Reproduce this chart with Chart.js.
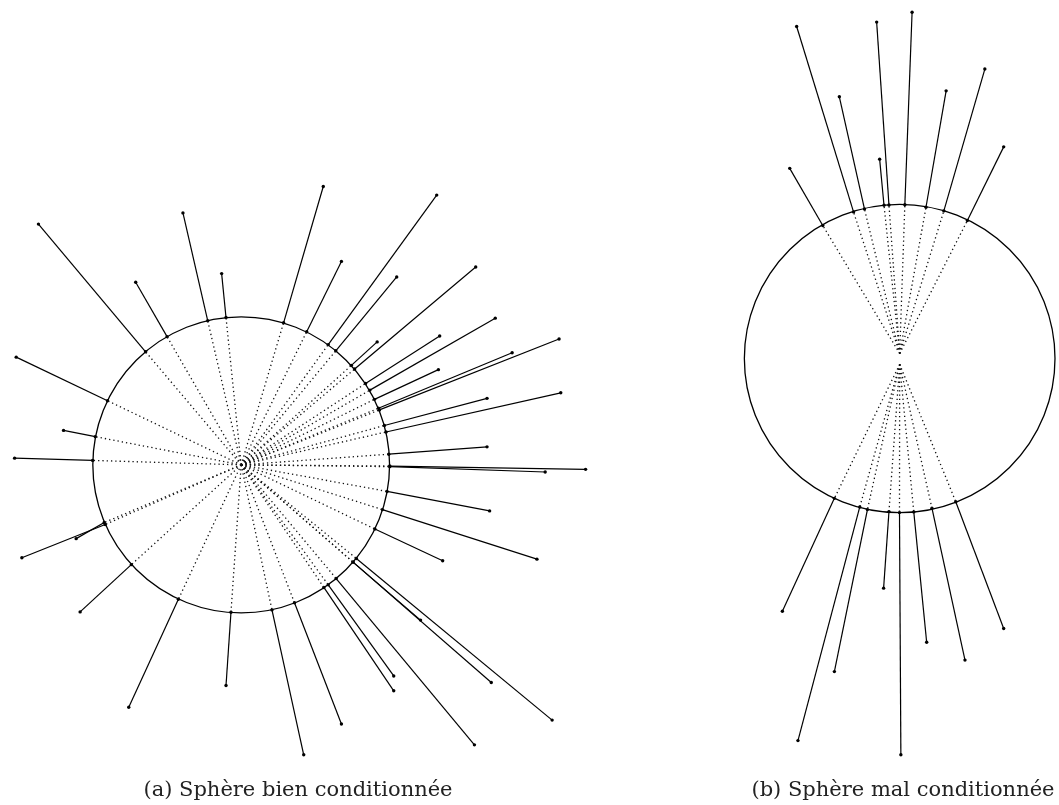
<!DOCTYPE html>
<html lang="fr">
<head>
  <meta charset="utf-8">
  <title>Sphères</title>
  <style type="text/css">
    body { margin: 0; background: #fff; }
    .page { position: relative; width: 1059px; height: 805px; overflow: hidden; }
    #rays { position: absolute; left: 0; top: 0; }
    /* legendes sous chaque sous-figure */
    .caption {
      position: absolute;
      top: 778px;
      width: 500px;
      text-align: center;
      font-family: "DejaVu Serif", "Liberation Serif", serif;
      font-size: 21px;
      line-height: 22px;
      color: #222;
      white-space: nowrap;
    }
  </style>
</head>
<body>
  <div class="page">
    <canvas id="rays" width="1059" height="805"></canvas>
    <div class="caption" style="left: 48px;">(a) Sphère bien conditionnée</div>
    <div class="caption" style="left: 653px;">(b) Sphère mal conditionnée</div>
  </div>

  <script src="https://cdn.jsdelivr.net/npm/chart.js"></script>

  <script>
    // sphere (a) : centre x, centre y, rayon
    const sphereA = [239, 465.5, 149.5];
    // points on the sphere (a)
    const footA = [
      [89.3, 461], [92, 437], [104.3, 400.7], [142.7, 351.3], [164.3, 336],
      [205.3, 320], [223.7, 316.7], [281.7, 322], [305, 331], [326.7, 344],
      [334.3, 350.3], [350, 365], [353.3, 368.7], [364.3, 383.3], [368.7, 390],
      [373.3, 399.3], [377.3, 408.3], [378.3, 410], [383.3, 425.7], [385, 432.3],
      [387.7, 454.7], [388.7, 466.7], [388.7, 467.3], [386, 492.3], [381.3, 510.7],
      [373.7, 530.3], [355, 560], [351.7, 563.7], [351.7, 563.7], [334.7, 580.3],
      [326.7, 586.7], [322.3, 589.3], [292.7, 604.7], [270, 612], [228.7, 614.3],
      [175.7, 601.3], [128.3, 566.3], [102, 525.7], [101, 523.7]
    ];
    // measured ends (a)
    const tipA = [
      [10.7, 458.7], [60, 430.7], [12.3, 356.7], [34.7, 222.3], [132.7, 281],
      [180.3, 211], [219.3, 272.3], [321.7, 184.3], [340, 260], [436, 193],
      [395.7, 275.7], [376, 341.3], [475.3, 265.7], [439, 335.3], [495, 317.3],
      [437.7, 369.3], [512, 352.3], [559.3, 338.3], [486.7, 398.3], [561, 392.7],
      [486.7, 447.3], [586, 470], [545.3, 472.7], [489.3, 512], [537, 560.7],
      [442, 562.3], [552.3, 723.3], [491, 685.3], [419.7, 622.3], [474, 748.3],
      [392.7, 678.7], [392.7, 693.7], [340, 727.3], [302, 758.3], [223.7, 688.3],
      [125.7, 710.3], [76.7, 614], [18, 559.3], [72.7, 540]
    ];

    // sphere (b) : centre x, centre y, rayon x, rayon y
    const sphereB = [902.5, 358, 156.5, 155.7];
    const innerBtop = [902.5, 353];
    const innerBbot = [902.5, 364];
    const footBtop = [
      [825, 223.7], [856, 210], [867, 207], [886.7, 203.3], [891.7, 203],
      [907.7, 202.7], [929, 205.3], [947, 209], [970.7, 218.7]
    ];
    const tipBtop = [
      [791.7, 166], [798.7, 22.7], [841.7, 93.7], [882.3, 156.7], [879.3, 18.3],
      [915, 8.3], [949.3, 87.7], [988.3, 65.7], [1007.3, 144.3]
    ];
    const footBbot = [
      [836.7, 499.3], [862.3, 508], [870, 510.7], [891.7, 512.7], [902.3, 513.7],
      [916.7, 513], [935, 509.3], [959, 502.7]
    ];
    const tipBbot = [
      [784.3, 613.3], [800, 744], [836.7, 674.3], [886.3, 590], [903.7, 758.3],
      [929.7, 644.7], [968.3, 662.7], [1007.3, 630.7]
    ];

    const pt = p => ({ x: p[0], y: p[1] });

    const dotted = [];
    const solid = [];
    function addRays(inner, foots, tips) {
      foots.forEach((f, i) => {
        dotted.push({
          data: [pt(inner), pt(f)],
          showLine: true,
          borderColor: "#111",
          borderWidth: 1.3,
          borderDash: [1.3, 3],
          pointRadius: 0,
          clip: false
        });
        solid.push({
          data: [pt(f), pt(tips[i])],
          showLine: true,
          borderColor: "#000",
          borderWidth: 1.2,
          pointRadius: 1.7,
          pointBackgroundColor: "#000",
          pointBorderWidth: 0,
          clip: false
        });
      });
    }
    addRays([sphereA[0], sphereA[1]], footA, tipA);
    addRays(innerBtop, footBtop, tipBtop);
    addRays(innerBbot, footBbot, tipBbot);

    // draws the two spheres through the scales
    const spherePlugin = {
      id: "spheres",
      beforeDatasetsDraw(chart) {
        const ctx = chart.ctx;
        const xs = chart.scales.x, ys = chart.scales.y;
        const draw = (cx, cy, rx, ry) => {
          const px = xs.getPixelForValue(cx), py = ys.getPixelForValue(cy);
          const prx = Math.abs(xs.getPixelForValue(cx + rx) - px);
          const pry = Math.abs(ys.getPixelForValue(cy + ry) - py);
          ctx.beginPath();
          ctx.ellipse(px, py, prx, pry, 0, 0, Math.PI * 2);
          ctx.stroke();
        };
        ctx.save();
        ctx.strokeStyle = "#000";
        ctx.lineWidth = 1.3;
        draw(sphereA[0], sphereA[1], sphereA[2], sphereA[2]);
        draw(sphereB[0], sphereB[1], sphereB[2], sphereB[3]);
        ctx.restore();
      }
    };

    new Chart(document.getElementById("rays").getContext("2d"), {
      type: "scatter",
      data: { datasets: dotted.concat(solid) },
      options: {
        responsive: false,
        animation: false,
        devicePixelRatio: 1,
        layout: { padding: 0 },
        scales: {
          x: { type: "linear", min: 0, max: 1059, display: false },
          y: { type: "linear", min: 0, max: 805, reverse: true, display: false }
        },
        plugins: { legend: { display: false }, tooltip: { enabled: false } }
      },
      plugins: [spherePlugin]
    });
  </script>
</body>
</html>
